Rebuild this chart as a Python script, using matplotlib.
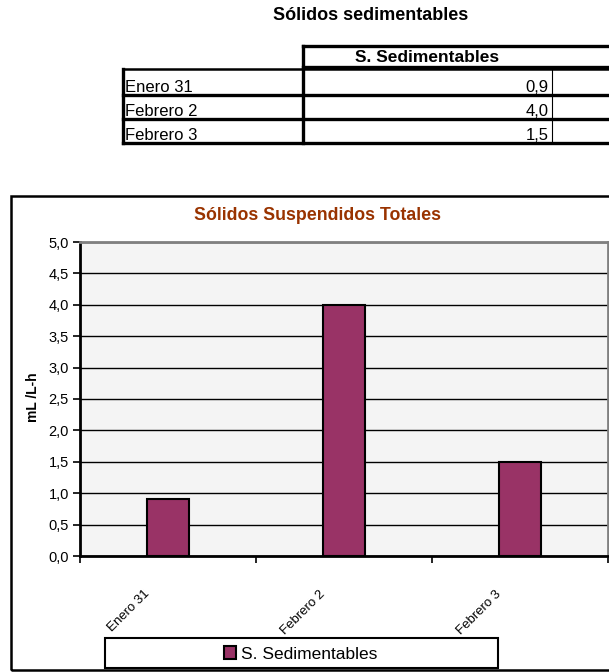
import matplotlib
matplotlib.use('Agg')
import matplotlib.pyplot as plt
import matplotlib.transforms as mtransforms
from matplotlib.lines import Line2D
from matplotlib.patches import Rectangle
import numpy as np

# Datos de sólidos sedimentables
fechas = ['Enero 31', 'Febrero 2', 'Febrero 3']
sedimentables = [0.9, 4.0, 1.5]
serie = 'S. Sedimentables'
titulo_tabla = 'Sólidos sedimentables'
titulo_grafico = 'Sólidos Suspendidos Totales'
unidad = 'mL /L-h'
yticks = [0.0, 0.5, 1.0, 1.5, 2.0, 2.5, 3.0, 3.5, 4.0, 4.5, 5.0]

plt.rcParams['font.family'] = ['Liberation Sans', 'DejaVu Sans']

W, H = 609, 672
fig = plt.figure(figsize=(W / 100, H / 100), dpi=100)


def fx(px):
    return px / W


def fy(py):
    return 1 - py / H


def linea(x0, y0, x1, y1, lw=2.4, color='black'):
    fig.add_artist(Line2D([fx(x0), fx(x1)], [fy(y0), fy(y1)], lw=lw, color=color,
                          solid_capstyle='projecting', transform=fig.transFigure))


# Tabla superior
fig.text(fx(371), fy(15), titulo_tabla, ha='center', va='center',
         fontsize=13, fontweight='bold')
fig.text(fx(427), fy(58), serie, ha='center', va='center',
         fontsize=12.5, fontweight='bold')

linea(303, 46, 612, 46)
linea(303, 67, 612, 67)
linea(123, 69, 612, 69, lw=1.8)
linea(303, 46, 303, 143)
linea(123, 69, 123, 143)
linea(552, 69, 552, 143, lw=0.8)
bordes_filas = [95, 119, 143]
for fecha, valor, yb in zip(fechas, sedimentables, bordes_filas):
    linea(123, yb, 612, yb)
    fig.text(fx(125), fy(yb - 3), fecha, ha='left', va='baseline', fontsize=12)
    fig.text(fx(549), fy(yb - 3), f'{valor:.1f}'.replace('.', ','),
             ha='right', va='baseline', fontsize=12)

# Marco del grafico
fig.add_artist(Rectangle((fx(11), fy(670)), fx(620) - fx(11), fy(196) - fy(670),
                         fill=False, lw=1.8, edgecolor='black',
                         transform=fig.transFigure))
fig.text(fx(317), fy(215), titulo_grafico, ha='center', va='center',
         fontsize=12.8, fontweight='bold', color='#993300')

# Grafico de barras
ax = fig.add_axes([fx(80), fy(556), fx(608) - fx(80), fy(242) - fy(556)])
ax.set_facecolor('#f4f4f4')
x = np.arange(len(fechas))
ax.bar(x, sedimentables, width=0.24, color='#993366', edgecolor='black',
       linewidth=1.5, zorder=3, label=serie)

ax.set_xlim(-0.5, len(fechas) - 0.5)
ax.set_ylim(0, 5)
ax.set_yticks(yticks)
ax.set_yticklabels([f'{v:.1f}'.replace('.', ',') for v in yticks], fontsize=10.5)
ax.yaxis.grid(True, color='black', lw=1.0, zorder=1)
ax.set_axisbelow(True)
ax.tick_params(axis='y', direction='out', length=5, width=1.2, pad=3)

ax.set_xticks(x)
ax.set_xticklabels(fechas, rotation=45, ha='right', va='top', fontsize=9.5,
                   family=['Liberation Sans Narrow', 'Liberation Sans'])
ax.set_xticks(np.arange(len(fechas) + 1) - 0.5, minor=True)
ax.tick_params(axis='x', which='major', length=0, pad=0)
ax.tick_params(axis='x', which='minor', direction='out', length=5, width=1.2)
desplazar = mtransforms.ScaledTranslation(-16 / 100, -32 / 100, fig.dpi_scale_trans)
for etiqueta in ax.get_xticklabels():
    etiqueta.set_transform(etiqueta.get_transform() + desplazar)

for lado in ['left', 'bottom']:
    ax.spines[lado].set_color('black')
    ax.spines[lado].set_linewidth(2)
for lado in ['top', 'right']:
    ax.spines[lado].set_color('#808080')
    ax.spines[lado].set_linewidth(2)

fig.text(fx(33), fy(397), unidad, rotation=90, ha='center', va='center',
         fontsize=10, fontweight='bold')

# Leyenda
fig.add_artist(Rectangle((fx(105), fy(668)), fx(498) - fx(105), fy(638) - fy(668),
                         fill=False, lw=1.5, edgecolor='black',
                         transform=fig.transFigure))
fig.legend(loc='center', bbox_to_anchor=(fx(301), fy(654)), frameon=False,
           fontsize=12.5, handlelength=0.7, handleheight=0.7, handletextpad=0.3,
           borderpad=0)

fig.savefig('out.png', dpi=100, facecolor='white')
